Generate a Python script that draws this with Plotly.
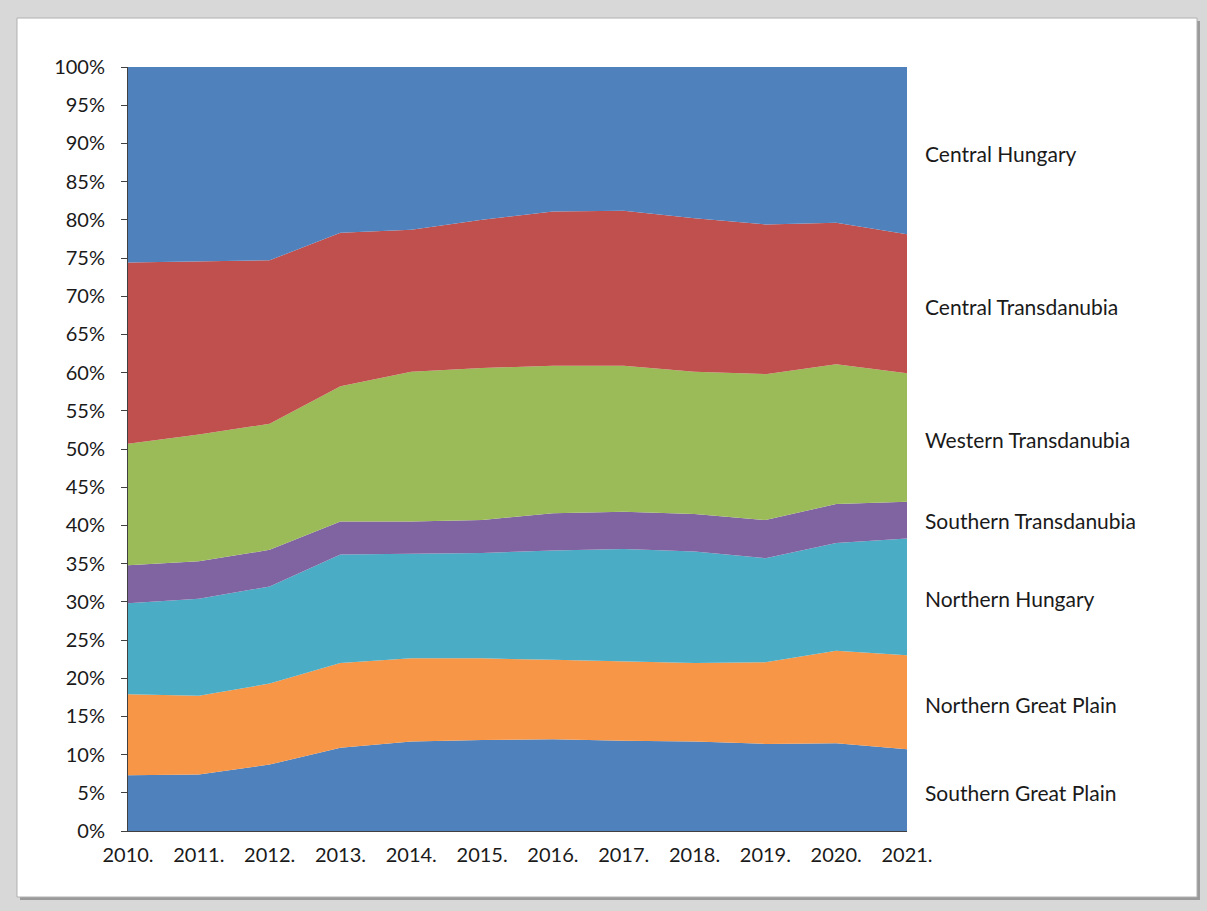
import plotly.graph_objects as go

years = ["2010.", "2011.", "2012.", "2013.", "2014.", "2015.",
         "2016.", "2017.", "2018.", "2019.", "2020.", "2021."]

# shares by region, percent (bottom to top)
southern_great_plain = [7.3, 7.4, 8.7, 10.9, 11.7, 11.9, 12.0, 11.8, 11.7, 11.4, 11.5, 10.7]
northern_great_plain = [10.6, 10.3, 10.6, 11.1, 10.9, 10.7, 10.4, 10.4, 10.3, 10.7, 12.1, 12.3]
northern_hungary = [11.9, 12.7, 12.7, 14.2, 13.7, 13.8, 14.3, 14.7, 14.6, 13.6, 14.1, 15.3]
southern_transdanubia = [5.0, 4.9, 4.8, 4.3, 4.2, 4.3, 4.9, 4.9, 4.9, 5.0, 5.1, 4.8]
western_transdanubia = [15.9, 16.6, 16.5, 17.7, 19.6, 19.9, 19.3, 19.1, 18.6, 19.1, 18.3, 16.8]
central_transdanubia = [23.7, 22.7, 21.4, 20.1, 18.6, 19.4, 20.2, 20.3, 20.1, 19.6, 18.5, 18.2]
central_hungary = [25.6, 25.4, 25.3, 21.7, 21.3, 20.0, 18.9, 18.8, 19.8, 20.6, 20.4, 21.9]

series = [
    ("Southern Great Plain", southern_great_plain, "#4F81BD"),
    ("Northern Great Plain", northern_great_plain, "#F79646"),
    ("Northern Hungary", northern_hungary, "#4BACC6"),
    ("Southern Transdanubia", southern_transdanubia, "#8064A2"),
    ("Western Transdanubia", western_transdanubia, "#9BBB59"),
    ("Central Transdanubia", central_transdanubia, "#C0504D"),
    ("Central Hungary", central_hungary, "#4F81BD"),
]

# label heights on the right side (paper units)
label_y = {
    "Central Hungary": 0.887,
    "Central Transdanubia": 0.687,
    "Western Transdanubia": 0.513,
    "Southern Transdanubia": 0.406,
    "Northern Hungary": 0.304,
    "Northern Great Plain": 0.166,
    "Southern Great Plain": 0.051,
}

FONT = "Lato, Calibri, Carlito, sans-serif"


def main():
    fig = go.Figure()
    for name, values, color in series:
        fig.add_trace(go.Scatter(
            x=years, y=values, name=name,
            mode="lines", stackgroup="one", groupnorm="percent",
            line=dict(width=0, color=color),
            fillcolor=color,
        ))
        fig.add_annotation(
            text=name, xref="paper", yref="paper",
            x=1.021, y=label_y[name], xanchor="left", yanchor="middle",
            showarrow=False, font=dict(family=FONT, size=21, color="#1a1a1a"),
        )

    # chart frame with drop shadow
    fig.add_shape(type="rect", xref="paper", yref="paper", layer="below",
                  x0=-0.1386, x1=1.3761, y0=-0.0903, y1=1.0602,
                  fillcolor="#9a9a9a", line=dict(width=0))
    fig.add_shape(type="rect", xref="paper", yref="paper", layer="below",
                  x0=-0.1425, x1=1.3723, y0=-0.0864, y1=1.0641,
                  fillcolor="white", line=dict(width=1, color="#b0b0b0"))

    fig.update_layout(
        width=1207, height=911,
        margin=dict(l=128, r=300, t=67, b=80),
        paper_bgcolor="#d8d8d8",
        plot_bgcolor="white",
        showlegend=False,
        font=dict(family=FONT, size=20, color="#1a1a1a"),
    )
    fig.update_xaxes(
        type="category", range=[0, 11],
        showgrid=False, showline=True, linecolor="#404040", linewidth=1,
        ticks="", tickfont=dict(size=20), ticklabelstandoff=6,
    )
    fig.update_yaxes(
        range=[0, 100], dtick=5, ticksuffix="%",
        showgrid=False, showline=True, linecolor="#404040", linewidth=1,
        ticks="outside", ticklen=6, tickcolor="#404040",
        tickfont=dict(size=20), ticklabelstandoff=12, zeroline=False,
    )
    fig.write_html("out.html", config={"displayModeBar": False},
                   post_script="document.body.style.margin = '0';")


if __name__ == "__main__":
    main()
